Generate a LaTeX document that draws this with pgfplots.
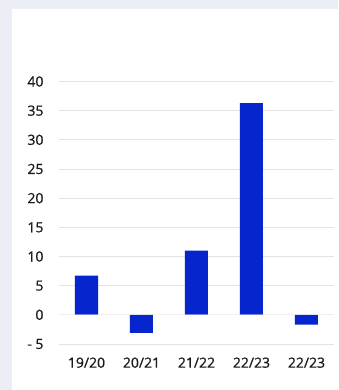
\documentclass[border=0pt]{standalone}
\usepackage{pgfplots}
\pgfplotsset{compat=1.18}
\usepackage{fontspec}
\setmainfont{Open Sans}
\newfontfamily\lblfont{Open Sans}[FakeBold=0.7]
\definecolor{pagebg}{HTML}{EBEEF4}
\definecolor{barblue}{HTML}{0625CC}
\definecolor{gridgrey}{HTML}{E3E3E3}
\definecolor{labeltext}{HTML}{1A1A1A}
\begin{document}
\begin{tikzpicture}[x=1pt,y=1pt]
  % page background and white card
  \fill[pagebg] (-59,-46) rectangle (279,344);
  \fill[white] (-47,-46) rectangle (279,335);
  \useasboundingbox (-59,-46) rectangle (279,344);
  \begin{axis}[
    at={(0,0)}, anchor=south west,
    scale only axis, width=275pt, height=262.5pt,
    xmin=-0.5, xmax=4.5, ymin=-5, ymax=40,
    axis line style={draw=none},
    ytick={-5,0,...,40},
    yticklabels={- 5,0,5,10,15,20,25,30,35,40},
    xtick={0,1,2,3,4},
    xticklabels={19/20,20/21,21/22,22/23,22/23},
    major tick length=0pt,
    ymajorgrids, grid style={draw=gridgrey, line width=0.9pt},
    tick label style={font=\lblfont\fontsize{14}{15}\selectfont, text=labeltext},
    yticklabel style={xshift=-12pt},
    xticklabel style={yshift=-10pt},
    /pgf/number format/assume math mode=true,
  ]
    \addplot[ybar, bar width=23pt, fill=barblue, draw=none]
      coordinates {(0,6.7) (1,-3.1) (2,11) (3,36.3) (4,-1.7)};
    \draw[white, opacity=0.45, line width=0.9pt]
      (axis cs:-0.5,0) -- (axis cs:4.5,0);
  \end{axis}
\end{tikzpicture}
\end{document}
